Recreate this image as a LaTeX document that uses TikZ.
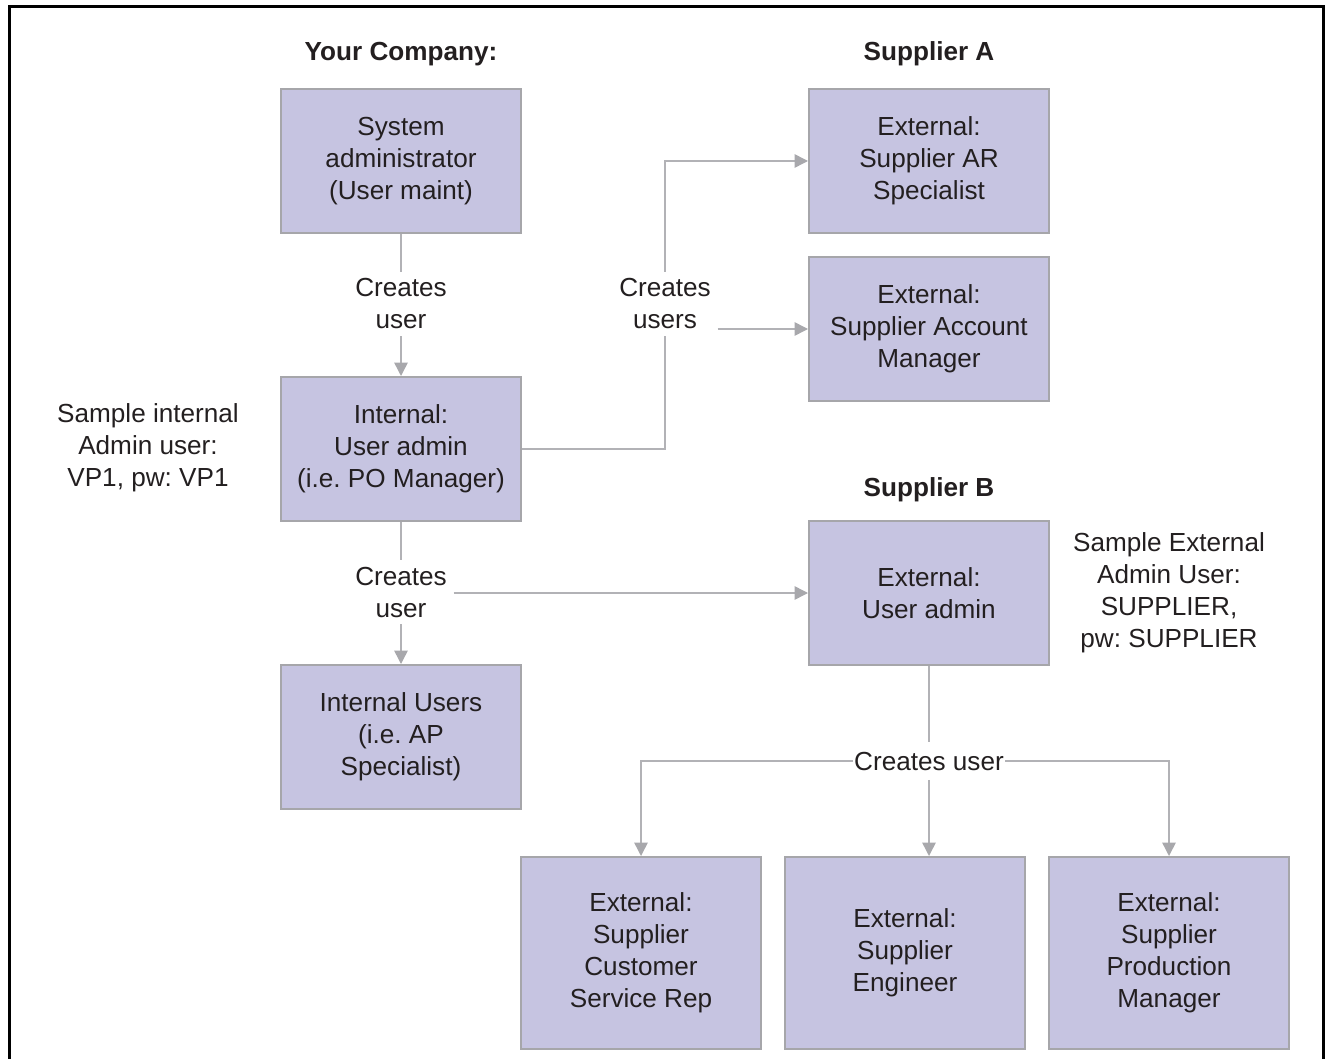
\documentclass[tikz,border=0pt]{standalone}
\usepackage{fontspec}
\setmainfont{Liberation Sans}
\usetikzlibrary{arrows.meta,positioning}
\definecolor{RoleFill}{HTML}{C6C4E1}
\definecolor{RoleEdge}{HTML}{A6A6AA}
\definecolor{LinkGray}{HTML}{B2B2B6}
\definecolor{TipGray}{HTML}{A8A8AC}
\definecolor{InkDark}{HTML}{231F20}

\tikzset{
  rolebox/.style={draw=RoleEdge, line width=1.5pt, fill=RoleFill, minimum width=180pt,
    minimum height=108pt, inner sep=0pt, align=center, text=InkDark},
  tallbox/.style={rolebox, minimum height=144pt},
  linklabel/.style={inner sep=5pt, align=center, text=InkDark},
  heading/.style={font=\fontsize{19.6}{24}\selectfont\bfseries, text=InkDark, anchor=base},
  sidenote/.style={align=center, text=InkDark, inner sep=0pt},
  conn/.style={draw=LinkGray, line width=1.1pt},
  connarrow/.style={conn, -{Triangle[length=10pt,width=10pt,fill=TipGray,color=TipGray]}}
}

\begin{document}
\frenchspacing
\begin{tikzpicture}[x=0.75pt, y=-0.75pt, font=\fontsize{19.6}{24}\selectfont]
\useasboundingbox (0,0) rectangle (1327,1059);
% Frame
\draw[line width=2.25pt] (9.5,1075) -- (9.5,6.5) -- (1323.5,6.5) -- (1323.5,1075);

% Headings
\node[heading] (hcompany) at (401,61) {Your Company:};
\node[heading] (hsuppa) at (929,61) {Supplier A};
\node[heading] (hsuppb) at (929,496) {Supplier B};

% Your company side
\node[rolebox] (sysadm) at (401,161) {System\\administrator\\(User maint)};
\node[rolebox] (intadm) at (401,449) {Internal:\\User admin\\(i.e. PO Manager)};
\node[rolebox] (intusers) at (401,737) {Internal Users\\(i.e. AP\\Specialist)};

% Supplier A
\node[rolebox] (suppar) at (929,161) {External:\\Supplier AR\\Specialist};
\node[rolebox] (suppacct) at (929,329) {External:\\Supplier Account\\Manager};

% Supplier B
\node[rolebox] (extadm) at (929,593) {External:\\User admin};
\node[tallbox] (custsvc) at (641,953) {External:\\Supplier\\Customer\\Service Rep};
\node[tallbox] (engineer) at (905,953) {External:\\Supplier\\Engineer};
\node[tallbox] (prodmgr) at (1169,953) {External:\\Supplier\\Production\\Manager};

% Side notes
\node[sidenote] (noteint) at (148,448) {Sample internal\\Admin user:\\VP1, pw: VP1};
\node[sidenote] (noteext) at (1169,593) {Sample External\\Admin User:\\SUPPLIER,\\pw: SUPPLIER};

% Link labels
\node[linklabel] (cu1) at (401,304) {Creates\\user};
\node[linklabel] (cu2) at (665,304) {Creates\\users};
\node[linklabel] (cu3) at (401,592) {Creates\\user};
\node[linklabel, inner xsep=1pt, inner ysep=7pt] (cu4) at (929,761) {Creates user};

% Connectors
\draw[conn] (sysadm) -- (cu1);
\draw[connarrow] (cu1) -- (intadm);

\draw[conn] (intadm.east) -| (cu2.south);
\draw[connarrow] (cu2.north) |- (suppar.west);
\draw[connarrow] (cu2.east |- suppacct.west) -- (suppacct.west);

\draw[conn] (intadm) -- (cu3);
\draw[connarrow] (cu3) -- (intusers);
\draw[connarrow] (cu3.east |- extadm.west) -- (extadm.west);

\draw[conn] (extadm) -- (cu4);
\draw[connarrow] (cu4.west) -| (custsvc.north);
\draw[connarrow] (cu4.south) -- (cu4.south |- engineer.north);
\draw[connarrow] (cu4.east) -| (prodmgr.north);

\end{tikzpicture}
\end{document}
